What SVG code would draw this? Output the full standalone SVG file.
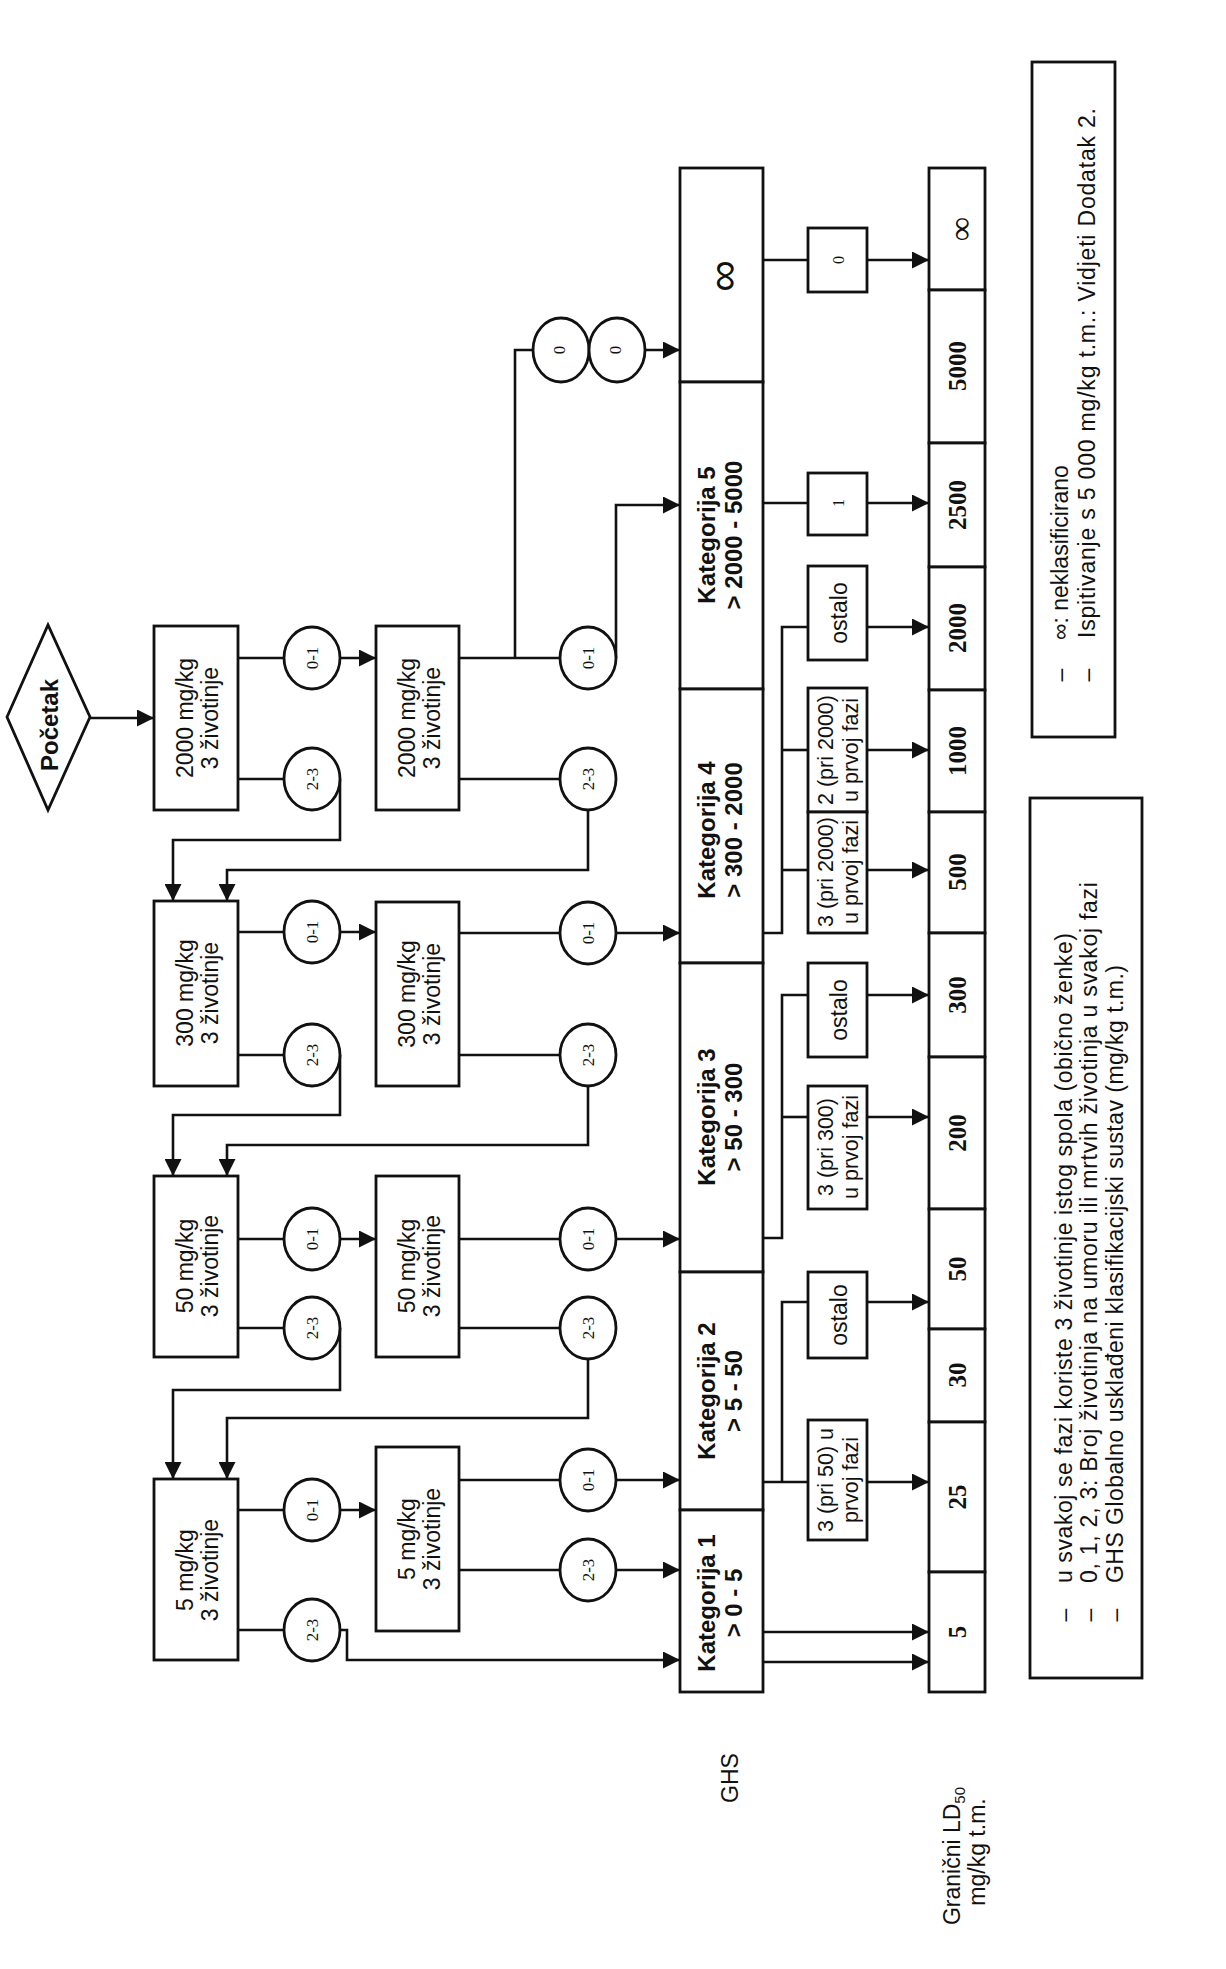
<svg xmlns="http://www.w3.org/2000/svg" width="1226" height="1969" viewBox="0 0 1226 1969">
<style>
.bx{fill:#fff;stroke:#111;stroke-width:2.8}
.ln{fill:none;stroke:#111;stroke-width:2.6}
.ar{marker-end:url(#ah)}
.s{font-family:"Liberation Sans",Arial,sans-serif;fill:#111}
.sr{font-family:"Liberation Serif","Times New Roman",serif;fill:#111}
.b{font-weight:bold}
.m{text-anchor:middle}
.c{dominant-baseline:central}
.f23{font-size:23px}
.f22{font-size:21.5px}
.f24{font-size:24px}
.cl{font-size:17px}
.ld{font-size:25px;font-weight:bold}
</style>
<defs>
<marker id="ah" viewBox="0 0 10 10" refX="10" refY="5" markerWidth="17" markerHeight="17" markerUnits="userSpaceOnUse" orient="auto"><path d="M0,0 L10,5 L0,10 Z" fill="#111"/></marker>
</defs>
<rect width="1226" height="1969" fill="#fff"/>

<g id="connectors">
<path class="ln ar" d="M90,718 H154"/>
<path class="ln" d="M238,658 H284"/>
<path class="ln ar" d="M340,658 H376"/>
<path class="ln" d="M238,779 H284"/>
<path class="ln ar" d="M340,779 V840 H173 V901"/>
<path class="ln" d="M459,658 H560"/>
<path class="ln" d="M515,658 V350 H533"/>
<path class="ln ar" d="M645,350 H680"/>
<path class="ln ar" d="M616,658 V505 H680"/>
<path class="ln" d="M459,779 H560"/>
<path class="ln ar" d="M588,810 V870 H227 V901"/>
<path class="ln" d="M238,932 H284"/>
<path class="ln ar" d="M340,932 H376"/>
<path class="ln" d="M238,1055 H284"/>
<path class="ln ar" d="M340,1055 V1115 H173 V1176"/>
<path class="ln" d="M459,933 H560"/>
<path class="ln ar" d="M616,933 H680"/>
<path class="ln" d="M459,1055 H560"/>
<path class="ln ar" d="M588,1086 V1145 H227 V1176"/>
<path class="ln" d="M238,1239 H284"/>
<path class="ln ar" d="M340,1239 H376"/>
<path class="ln" d="M238,1328 H284"/>
<path class="ln ar" d="M340,1328 V1390 H173 V1479"/>
<path class="ln" d="M459,1239 H560"/>
<path class="ln ar" d="M616,1239 H680"/>
<path class="ln" d="M459,1328 H560"/>
<path class="ln ar" d="M588,1359 V1418 H227 V1479"/>
<path class="ln" d="M238,1510 H284"/>
<path class="ln ar" d="M340,1510 H376"/>
<path class="ln" d="M238,1630 H284"/>
<path class="ln ar" d="M340,1630 H347 V1660 H680"/>
<path class="ln" d="M459,1480 H560"/>
<path class="ln ar" d="M616,1480 H680"/>
<path class="ln" d="M459,1570 H560"/>
<path class="ln ar" d="M616,1570 H680"/>
<path class="ln" d="M763,260 H808"/>
<path class="ln ar" d="M867,260 H929"/>
<path class="ln" d="M763,503 H808"/>
<path class="ln ar" d="M867,503 H929"/>
<path class="ln" d="M763,933 H782 V627 H808"/>
<path class="ln" d="M782,750 H808"/>
<path class="ln" d="M782,870 H808"/>
<path class="ln ar" d="M867,627 H929"/>
<path class="ln ar" d="M867,750 H929"/>
<path class="ln ar" d="M867,870 H929"/>
<path class="ln" d="M763,1238 H782 V995 H808"/>
<path class="ln" d="M782,1117 H808"/>
<path class="ln ar" d="M867,995 H929"/>
<path class="ln ar" d="M867,1117 H929"/>
<path class="ln" d="M763,1482 H808"/>
<path class="ln" d="M782,1482 V1302 H808"/>
<path class="ln ar" d="M867,1302 H929"/>
<path class="ln ar" d="M867,1482 H929"/>
<path class="ln ar" d="M763,1632 H929"/>
<path class="ln ar" d="M763,1662 H929"/>
</g>

<g id="start">
<polygon class="bx" points="7,717 48,625 90,717 48,810"/>
<text class="s b m f24" transform="translate(58,725) rotate(-90)">Početak</text>
</g>

<g id="c1-2000"><rect class="bx" x="154" y="626" width="84" height="184"/>
<text class="s m f23" transform="translate(193,718) rotate(-90)"><tspan x="0" y="0">2000 mg/kg</tspan><tspan x="0" y="25">3 životinje</tspan></text></g>
<g id="c1-300"><rect class="bx" x="154" y="901" width="84" height="185"/>
<text class="s m f23" transform="translate(193,993) rotate(-90)"><tspan x="0" y="0">300 mg/kg</tspan><tspan x="0" y="25">3 životinje</tspan></text></g>
<g id="c1-50"><rect class="bx" x="154" y="1176" width="84" height="181"/>
<text class="s m f23" transform="translate(193,1266) rotate(-90)"><tspan x="0" y="0">50 mg/kg</tspan><tspan x="0" y="25">3 životinje</tspan></text></g>
<g id="c1-5"><rect class="bx" x="154" y="1479" width="84" height="181"/>
<text class="s m f23" transform="translate(193,1570) rotate(-90)"><tspan x="0" y="0">5 mg/kg</tspan><tspan x="0" y="25">3 životinje</tspan></text></g>

<g id="c2-2000"><rect class="bx" x="376" y="626" width="83" height="184"/>
<text class="s m f23" transform="translate(415,718) rotate(-90)"><tspan x="0" y="0">2000 mg/kg</tspan><tspan x="0" y="25">3 životinje</tspan></text></g>
<g id="c2-300"><rect class="bx" x="376" y="902" width="83" height="184"/>
<text class="s m f23" transform="translate(415,994) rotate(-90)"><tspan x="0" y="0">300 mg/kg</tspan><tspan x="0" y="25">3 životinje</tspan></text></g>
<g id="c2-50"><rect class="bx" x="376" y="1176" width="83" height="181"/>
<text class="s m f23" transform="translate(415,1266) rotate(-90)"><tspan x="0" y="0">50 mg/kg</tspan><tspan x="0" y="25">3 životinje</tspan></text></g>
<g id="c2-5"><rect class="bx" x="376" y="1447" width="83" height="184"/>
<text class="s m f23" transform="translate(415,1539) rotate(-90)"><tspan x="0" y="0">5 mg/kg</tspan><tspan x="0" y="25">3 životinje</tspan></text></g>

<g id="o1-2000a"><ellipse class="bx" cx="312" cy="658" rx="28" ry="31"/><text class="sr cl m c" transform="translate(312,658) rotate(-90)">0-1</text></g>
<g id="o1-2000b"><ellipse class="bx" cx="312" cy="779" rx="28" ry="31"/><text class="sr cl m c" transform="translate(312,779) rotate(-90)">2-3</text></g>
<g id="o1-300a"><ellipse class="bx" cx="312" cy="932" rx="28" ry="31"/><text class="sr cl m c" transform="translate(312,932) rotate(-90)">0-1</text></g>
<g id="o1-300b"><ellipse class="bx" cx="312" cy="1055" rx="28" ry="31"/><text class="sr cl m c" transform="translate(312,1055) rotate(-90)">2-3</text></g>
<g id="o1-50a"><ellipse class="bx" cx="312" cy="1239" rx="28" ry="31"/><text class="sr cl m c" transform="translate(312,1239) rotate(-90)">0-1</text></g>
<g id="o1-50b"><ellipse class="bx" cx="312" cy="1328" rx="28" ry="31"/><text class="sr cl m c" transform="translate(312,1328) rotate(-90)">2-3</text></g>
<g id="o1-5a"><ellipse class="bx" cx="312" cy="1510" rx="28" ry="31"/><text class="sr cl m c" transform="translate(312,1510) rotate(-90)">0-1</text></g>
<g id="o1-5b"><ellipse class="bx" cx="312" cy="1630" rx="28" ry="31"/><text class="sr cl m c" transform="translate(312,1630) rotate(-90)">2-3</text></g>

<g id="o2-2000a"><ellipse class="bx" cx="588" cy="658" rx="28" ry="31"/><text class="sr cl m c" transform="translate(588,658) rotate(-90)">0-1</text></g>
<g id="o2-2000b"><ellipse class="bx" cx="588" cy="779" rx="28" ry="31"/><text class="sr cl m c" transform="translate(588,779) rotate(-90)">2-3</text></g>
<g id="o2-300a"><ellipse class="bx" cx="588" cy="933" rx="28" ry="31"/><text class="sr cl m c" transform="translate(588,933) rotate(-90)">0-1</text></g>
<g id="o2-300b"><ellipse class="bx" cx="588" cy="1055" rx="28" ry="31"/><text class="sr cl m c" transform="translate(588,1055) rotate(-90)">2-3</text></g>
<g id="o2-50a"><ellipse class="bx" cx="588" cy="1239" rx="28" ry="31"/><text class="sr cl m c" transform="translate(588,1239) rotate(-90)">0-1</text></g>
<g id="o2-50b"><ellipse class="bx" cx="588" cy="1328" rx="28" ry="31"/><text class="sr cl m c" transform="translate(588,1328) rotate(-90)">2-3</text></g>
<g id="o2-5a"><ellipse class="bx" cx="588" cy="1480" rx="28" ry="31"/><text class="sr cl m c" transform="translate(588,1480) rotate(-90)">0-1</text></g>
<g id="o2-5b"><ellipse class="bx" cx="588" cy="1570" rx="28" ry="31"/><text class="sr cl m c" transform="translate(588,1570) rotate(-90)">2-3</text></g>

<g id="o-zero1"><ellipse class="bx" cx="561" cy="350" rx="28" ry="32"/><text class="sr cl m c" transform="translate(559,350) rotate(-90)">0</text></g>
<g id="o-zero2"><ellipse class="bx" cx="617" cy="350" rx="28" ry="32"/><text class="sr cl m c" transform="translate(615,350) rotate(-90)">0</text></g>

<g id="cat-inf"><rect class="bx" x="680" y="168" width="83" height="214"/>
<text class="s m c" font-size="44" transform="translate(722,276) rotate(-90)">∞</text></g>
<g id="cat5"><rect class="bx" x="680" y="382" width="83" height="307"/>
<text class="s b m f24" transform="translate(715,535) rotate(-90)"><tspan x="0" y="0">Kategorija 5</tspan><tspan x="0" y="27">&gt; 2000 - 5000</tspan></text></g>
<g id="cat4"><rect class="bx" x="680" y="689" width="83" height="274"/>
<text class="s b m f24" transform="translate(715,830) rotate(-90)"><tspan x="0" y="0">Kategorija 4</tspan><tspan x="0" y="27">&gt; 300 - 2000</tspan></text></g>
<g id="cat3"><rect class="bx" x="680" y="963" width="83" height="309"/>
<text class="s b m f24" transform="translate(715,1117) rotate(-90)"><tspan x="0" y="0">Kategorija 3</tspan><tspan x="0" y="27">&gt; 50 - 300</tspan></text></g>
<g id="cat2"><rect class="bx" x="680" y="1272" width="83" height="238"/>
<text class="s b m f24" transform="translate(715,1391) rotate(-90)"><tspan x="0" y="0">Kategorija 2</tspan><tspan x="0" y="27">&gt; 5 - 50</tspan></text></g>
<g id="cat1"><rect class="bx" x="680" y="1510" width="83" height="182"/>
<text class="s b m f24" transform="translate(715,1603) rotate(-90)"><tspan x="0" y="0">Kategorija 1</tspan><tspan x="0" y="27">&gt; 0 - 5</tspan></text></g>

<g id="r-0"><rect class="bx" x="808" y="228" width="59" height="64"/><text class="sr m c" font-size="16" transform="translate(838,260) rotate(-90)">0</text></g>
<g id="r-1"><rect class="bx" x="808" y="473" width="59" height="62"/><text class="sr m c" font-size="16" transform="translate(838,503) rotate(-90)">1</text></g>
<g id="r4-ostalo"><rect class="bx" x="808" y="566" width="59" height="94"/><text class="s m f23" transform="translate(847,613) rotate(-90)">ostalo</text></g>
<g id="r4-2"><rect class="bx" x="808" y="688" width="59" height="124"/><text class="s m f22" transform="translate(833,750) rotate(-90)"><tspan x="0" y="0">2 (pri 2000)</tspan><tspan x="0" y="25">u prvoj fazi</tspan></text></g>
<g id="r4-3"><rect class="bx" x="808" y="812" width="59" height="121"/><text class="s m f22" transform="translate(833,872) rotate(-90)"><tspan x="0" y="0">3 (pri 2000)</tspan><tspan x="0" y="25">u prvoj fazi</tspan></text></g>
<g id="r3-ostalo"><rect class="bx" x="808" y="963" width="59" height="94"/><text class="s m f23" transform="translate(847,1010) rotate(-90)">ostalo</text></g>
<g id="r3-3"><rect class="bx" x="808" y="1086" width="59" height="123"/><text class="s m f22" transform="translate(833,1147) rotate(-90)"><tspan x="0" y="0">3 (pri 300)</tspan><tspan x="0" y="25">u prvoj fazi</tspan></text></g>
<g id="r2-ostalo"><rect class="bx" x="808" y="1272" width="59" height="86"/><text class="s m f23" transform="translate(847,1315) rotate(-90)">ostalo</text></g>
<g id="r2-3"><rect class="bx" x="808" y="1420" width="59" height="120"/><text class="s m f22" transform="translate(833,1480) rotate(-90)"><tspan x="0" y="0">3 (pri 50) u</tspan><tspan x="0" y="25">prvoj fazi</tspan></text></g>

<g id="ld-row">
<rect class="bx" x="929" y="168" width="56" height="122"/><text class="sr m c" font-size="34" transform="translate(960,229) rotate(-90)">∞</text>
<rect class="bx" x="929" y="290" width="56" height="153"/><text class="sr ld m" transform="translate(966,366) rotate(-90)">5000</text>
<rect class="bx" x="929" y="443" width="56" height="124"/><text class="sr ld m" transform="translate(966,505) rotate(-90)">2500</text>
<rect class="bx" x="929" y="567" width="56" height="123"/><text class="sr ld m" transform="translate(966,628) rotate(-90)">2000</text>
<rect class="bx" x="929" y="690" width="56" height="122"/><text class="sr ld m" transform="translate(966,751) rotate(-90)">1000</text>
<rect class="bx" x="929" y="812" width="56" height="121"/><text class="sr ld m" transform="translate(966,872) rotate(-90)">500</text>
<rect class="bx" x="929" y="933" width="56" height="124"/><text class="sr ld m" transform="translate(966,995) rotate(-90)">300</text>
<rect class="bx" x="929" y="1057" width="56" height="152"/><text class="sr ld m" transform="translate(966,1133) rotate(-90)">200</text>
<rect class="bx" x="929" y="1209" width="56" height="120"/><text class="sr ld m" transform="translate(966,1269) rotate(-90)">50</text>
<rect class="bx" x="929" y="1329" width="56" height="93"/><text class="sr ld m" transform="translate(966,1375) rotate(-90)">30</text>
<rect class="bx" x="929" y="1422" width="56" height="150"/><text class="sr ld m" transform="translate(966,1497) rotate(-90)">25</text>
<rect class="bx" x="929" y="1572" width="56" height="120"/><text class="sr ld m" transform="translate(966,1632) rotate(-90)">5</text>
</g>

<text class="s m f23" transform="translate(738,1778) rotate(-90)">GHS</text>
<text class="s m f23" transform="translate(960,1856) rotate(-90)"><tspan x="0" y="0">Granični LD</tspan><tspan font-size="15" dy="5">50</tspan></text>
<text class="s m f23" transform="translate(985,1852) rotate(-90)">mg/kg t.m.</text>

<g id="legend-1">
<rect class="bx" x="1032" y="62" width="83" height="675"/>
<text class="s f23 m" transform="translate(1068,675) rotate(-90)">–</text>
<text class="s f23 m" transform="translate(1095,675) rotate(-90)">–</text>
<text class="s f23" transform="translate(1068,640) rotate(-90)">∞: neklasificirano</text>
<text class="s f23" transform="translate(1095,638) rotate(-90)" textLength="530" lengthAdjust="spacing">Ispitivanje s 5 000 mg/kg t.m.: Vidjeti Dodatak 2.</text>
</g>
<g id="legend-2">
<rect class="bx" x="1030" y="798" width="112" height="880"/>
<text class="s f23 m" transform="translate(1072,1615) rotate(-90)">–</text>
<text class="s f23 m" transform="translate(1097,1615) rotate(-90)">–</text>
<text class="s f23 m" transform="translate(1123,1615) rotate(-90)">–</text>
<text class="s f23" transform="translate(1072,1583) rotate(-90)" textLength="650" lengthAdjust="spacing">u svakoj se fazi koriste 3 životinje istog spola (obično ženke)</text>
<text class="s f23" transform="translate(1097,1583) rotate(-90)" textLength="701" lengthAdjust="spacing">0, 1, 2, 3: Broj životinja na umoru ili mrtvih životinja u svakoj fazi</text>
<text class="s f23" transform="translate(1123,1583) rotate(-90)" textLength="618" lengthAdjust="spacing">GHS Globalno usklađeni klasifikacijski sustav (mg/kg t.m.)</text>
</g>
</svg>
